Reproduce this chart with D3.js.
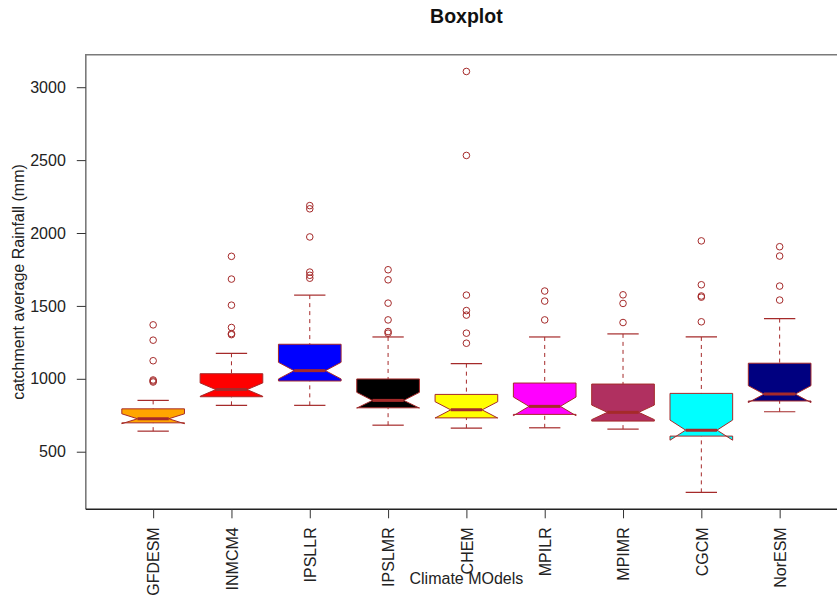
<!DOCTYPE html>
<html>
<head>
<meta charset="utf-8">
<script src="https://cdn.jsdelivr.net/npm/d3@7"></script>
<style>
  body { margin: 0; background: #fff; }
  svg { display: block; font-family: Arial, "Liberation Sans", sans-serif; }
</style>
</head>
<body>
<svg id="chart" width="837" height="598"></svg>
<script>
// ---- data ----
const categories = ["GFDESM", "INMCM4", "IPSLLR", "IPSLMR", "CHEM", "MPILR", "MPIMR", "CGCM", "NorESM"];
const lowerWhisker = [641, 818, 818, 682, 662, 664, 655, 221, 774];
const q1Values     = [698, 877, 985, 801, 732, 756, 710, 607, 848];
const medians      = [726, 926, 1056, 852, 787, 811, 770, 648, 895];
const q3Values     = [794, 1035, 1237, 999, 893, 971, 964, 900, 1107];
const upperWhisker = [852, 1175, 1574, 1287, 1104, 1287, 1308, 1287, 1413];
const notchLow     = [692, 880, 999, 799, 731, 747, 720, 579, 837];
const notchHigh    = [760, 972, 1113, 907, 843, 875, 820, 717, 953];
const outliers = [
  [1370, 1265, 1124, 992, 985, 978],
  [1840, 1684, 1505, 1352, 1310, 1303],
  [2188, 2166, 1973, 1732, 1710, 1690],
  [1748, 1679, 1519, 1404, 1324, 1313],
  [3108, 2532, 1574, 1468, 1437, 1313, 1244],
  [1602, 1533, 1404],
  [1576, 1517, 1386],
  [1946, 1645, 1568, 1560, 1391],
  [1906, 1842, 1636, 1540]
];
const fillColors = ["#FFA500", "#FF0000", "#0000FF", "#000000", "#FFFF00", "#FF00FF", "#B03060", "#00FFFF", "#000080"];
const yTicks = [500, 1000, 1500, 2000, 2500, 3000];
const titleText = "Boxplot";
const xLabel = "Climate MOdels";
const yLabel = "catchment average Rainfall (mm)";

// ---- layout ----
const plotLeft = 85.8, plotRight = 847, plotTop = 54.7, plotBottom = 509.3;
const border = "#A52A2A";

const svg = d3.select("#chart");

const x = d3.scalePoint().domain(categories).range([plotLeft, plotRight]).padding(0.86);
const y = d3.scaleLinear().domain([105, 3223]).range([plotBottom, plotTop]);

const step = x.step();
const wd = step * 0.8 / 2;

const rows = categories.map((c, i) => ({
  c, i,
  lw: lowerWhisker[i], q1: q1Values[i], med: medians[i], q3: q3Values[i],
  uw: upperWhisker[i], nLo: notchLow[i], nHi: notchHigh[i],
  out: outliers[i], fill: fillColors[i]
}));

const g = svg.append("g");

// boxes (notched polygons)
g.selectAll("path.box").data(rows).join("path")
  .attr("class", "box")
  .attr("d", d => {
    const cx = x(d.c);
    const pts = [
      [cx - wd, y(d.q1)], [cx - wd, y(d.nLo)], [cx - wd / 2, y(d.med)], [cx - wd, y(d.nHi)],
      [cx - wd, y(d.q3)], [cx + wd, y(d.q3)], [cx + wd, y(d.nHi)], [cx + wd / 2, y(d.med)],
      [cx + wd, y(d.nLo)], [cx + wd, y(d.q1)]
    ];
    return d3.line()(pts) + "Z";
  })
  .attr("fill", d => d.fill)
  .attr("stroke", border)
  .attr("stroke-width", 1);

// medians
g.selectAll("line.med").data(rows).join("line")
  .attr("x1", d => x(d.c) - wd / 2).attr("x2", d => x(d.c) + wd / 2)
  .attr("y1", d => y(d.med)).attr("y2", d => y(d.med))
  .attr("stroke", border).attr("stroke-width", 3);

// whiskers (dashed)
rows.forEach(d => {
  const cx = x(d.c);
  [[d.uw, d.q3], [d.lw, d.q1]].forEach(([a, b]) => {
    g.append("line")
      .attr("x1", cx).attr("x2", cx)
      .attr("y1", y(a)).attr("y2", y(b))
      .attr("stroke", border).attr("stroke-width", 1)
      .attr("stroke-dasharray", "4,4");
  });
  [d.uw, d.lw].forEach(v => {
    g.append("line")
      .attr("x1", cx - wd / 2).attr("x2", cx + wd / 2)
      .attr("y1", y(v)).attr("y2", y(v))
      .attr("stroke", border).attr("stroke-width", 1.2);
  });
  g.selectAll(null).data(d.out).join("circle")
    .attr("cx", cx).attr("cy", v => y(v)).attr("r", 3.3)
    .attr("fill", "none").attr("stroke", border).attr("stroke-width", 1);
});

// frame
svg.append("path")
  .attr("d", `M${plotLeft},${plotBottom}V${plotTop}H${plotRight}`)
  .attr("fill", "none").attr("stroke", "#7a7a7a").attr("stroke-width", 1.6);
svg.append("line")
  .attr("x1", plotLeft).attr("x2", plotRight)
  .attr("y1", plotBottom).attr("y2", plotBottom)
  .attr("stroke", "#222").attr("stroke-width", 1.4);

// y axis
const yAxis = svg.append("g")
  .attr("transform", `translate(${plotLeft},0)`)
  .call(d3.axisLeft(y).tickValues(yTicks).tickSize(9).tickPadding(11).tickFormat(d3.format("d")));
yAxis.select(".domain").remove();
yAxis.selectAll(".tick line").attr("stroke", "#333");
yAxis.selectAll("text").attr("font-size", 16).attr("fill", "#222")
  .attr("font-family", "Arial, 'Liberation Sans', sans-serif");

// x axis
const xAxis = svg.append("g")
  .attr("transform", `translate(0,${plotBottom})`)
  .call(d3.axisBottom(x).tickSize(9).tickPadding(10));
xAxis.select(".domain").remove();
xAxis.selectAll(".tick line").attr("stroke", "#333");
xAxis.selectAll("text")
  .attr("font-size", 16).attr("fill", "#222")
  .attr("font-family", "Arial, 'Liberation Sans', sans-serif")
  .attr("transform", "rotate(-90)")
  .attr("text-anchor", "end")
  .attr("x", -18).attr("y", 0).attr("dy", "0.36em");

// title & labels
svg.append("text")
  .attr("x", (plotLeft + plotRight) / 2).attr("y", 23)
  .attr("text-anchor", "middle").attr("font-weight", "bold").attr("font-size", 19.5)
  .attr("fill", "#111").text(titleText);

svg.append("text")
  .attr("x", (plotLeft + plotRight) / 2).attr("y", 584)
  .attr("text-anchor", "middle").attr("font-size", 16).attr("fill", "#222")
  .text(xLabel);

svg.append("text")
  .attr("transform", `translate(24,${(plotTop + plotBottom) / 2}) rotate(-90)`)
  .attr("text-anchor", "middle").attr("font-size", 16).attr("fill", "#222")
  .text(yLabel);
</script>
</body>
</html>
